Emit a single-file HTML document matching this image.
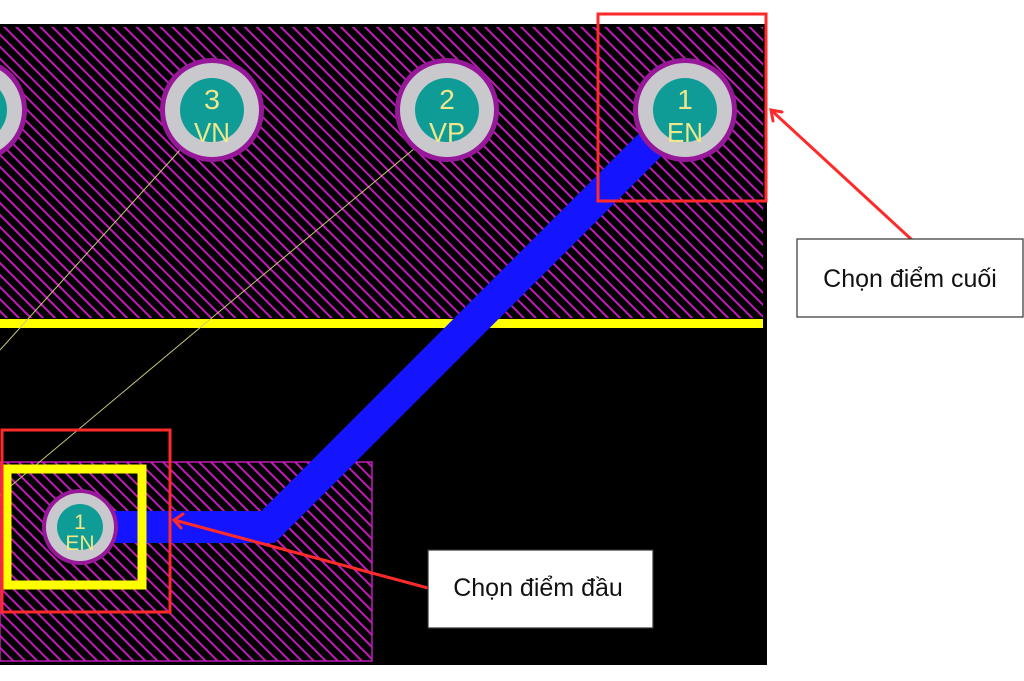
<!DOCTYPE html>
<html><head><meta charset="utf-8"><style>
html,body{margin:0;padding:0;background:#fff;width:1024px;height:681px;overflow:hidden}
svg{display:block}
text{font-family:"Liberation Sans","DejaVu Sans",sans-serif}
</style></head><body>
<svg width="1024" height="681" viewBox="0 0 1024 681" xmlns="http://www.w3.org/2000/svg">
<defs>
<pattern id="h" patternUnits="userSpaceOnUse" width="8.5" height="8.5" patternTransform="rotate(-45)">
<rect width="8.5" height="8.5" fill="#000"/>
<rect x="0" y="0" width="2" height="8.5" fill="#c21ab8"/>
</pattern>
<g id="pad">
<circle r="52" fill="#98189a"/>
<circle r="47" fill="#c9c8cc"/>
<circle r="32" fill="#0f9b96"/>
</g>
<g id="spad">
<circle r="38" fill="#98189a"/>
<circle r="34" fill="#c9c8cc"/>
<circle r="23" fill="#0f9b96"/>
</g>
</defs>
<rect x="0" y="24" width="767" height="641" fill="#000"/>
<rect x="0" y="27" width="763" height="291" fill="url(#h)"/>
<rect x="0" y="462" width="372" height="199" fill="url(#h)" stroke="#c21ab8" stroke-width="1.5"/>
<rect x="0" y="319" width="763" height="9" fill="#ffff00"/>
<line x1="180" y1="150" x2="0" y2="350" stroke="#c8c87a" stroke-width="1"/>
<line x1="415" y1="148" x2="0" y2="495" stroke="#c8c87a" stroke-width="1"/>
<polyline points="80,527 268,527 685,110" fill="none" stroke="#1414ff" stroke-width="32" stroke-linejoin="miter"/>
<use href="#pad" x="-25" y="110"/>
<use href="#pad" x="212" y="110"/>
<use href="#pad" x="447" y="110"/>
<use href="#pad" x="685" y="110"/>
<g fill="#f0e68c" font-size="28" text-anchor="middle">
<text x="212" y="109" textLength="16" lengthAdjust="spacingAndGlyphs">3</text><text x="212" y="142" textLength="36" lengthAdjust="spacingAndGlyphs">VN</text>
<text x="447" y="109">2</text><text x="447" y="142" textLength="36" lengthAdjust="spacingAndGlyphs">VP</text>
<text x="685" y="109">1</text><text x="685" y="142" textLength="36" lengthAdjust="spacingAndGlyphs">EN</text>
</g>
<rect x="7" y="469" width="135" height="116" fill="none" stroke="#ffff00" stroke-width="9"/>
<use href="#spad" x="80" y="527"/>
<g fill="#f0e68c" font-size="21" text-anchor="middle">
<text x="80" y="529">1</text><text x="80" y="550">EN</text>
</g>
<rect x="2" y="430" width="168" height="182" fill="none" stroke="#ff2a2a" stroke-width="3"/>
<rect x="598" y="14" width="168" height="187" fill="none" stroke="#ff2a2a" stroke-width="3"/>
<g stroke="#ff2a2a" stroke-width="3" fill="none" stroke-linecap="round">
<line x1="911" y1="239" x2="771" y2="110"/>
<polyline points="782,112 771,110 773,121"/>
<line x1="428" y1="588" x2="174" y2="520"/>
<polyline points="183,514 174,520 181,528"/>
</g>
<rect x="797" y="239" width="226" height="78" fill="#fff" stroke="#333" stroke-width="1.2"/>
<text x="910" y="287" font-size="25" text-anchor="middle" fill="#111">Chọn điểm cuối</text>
<rect x="428" y="550" width="225" height="78" fill="#fff" stroke="#333" stroke-width="1.2"/>
<text x="538" y="596" font-size="25" text-anchor="middle" fill="#111">Chọn điểm đầu</text>
</svg>
</body></html>
